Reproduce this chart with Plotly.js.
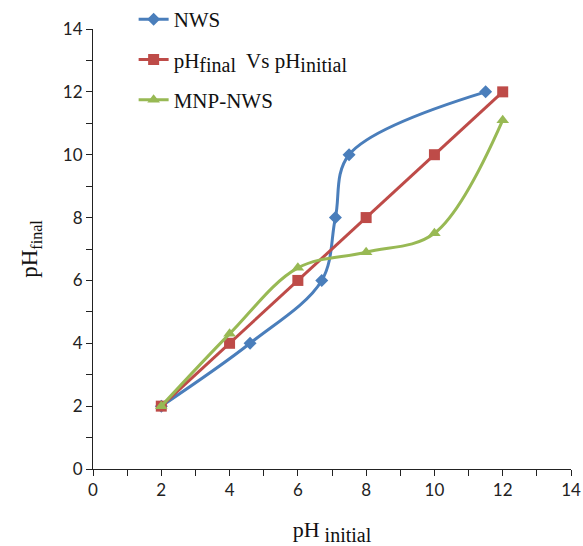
<!DOCTYPE html>
<html>
<head>
<meta charset="utf-8">
<script src="https://cdn.plot.ly/plotly-3.0.1.min.js"></script>
<style>html,body{margin:0;padding:0;background:#fff;}#chart{width:583px;height:546px;}</style>
</head>
<body>
<div id="chart"></div>
<script>
// Data
const nwsX = [2, 4.6, 6.7, 7.1, 7.5, 11.5];
const nwsY = [2, 4, 6, 8, 10, 12];
const refX = [2, 4, 6, 8, 10, 12];
const refY = [2, 4, 6, 8, 10, 12];
const mnpX = [2, 4, 6, 8, 10, 12];
const mnpY = [2, 4.3, 6.4, 6.9, 7.5, 11.1];
const seriesNames = ['NWS',
  'pH<sub><span style="font-size:20px">final</span></sub>  Vs pH<sub><span style="font-size:20px">initial</span></sub>',
  'MNP-NWS'];
const xTitle = 'pH<sub><span style="font-size:20px"> initial</span></sub>';
const yTitle = 'pH<sub>final</sub>';

const traces = [
  {x: nwsX, y: nwsY, name: seriesNames[0], mode: 'lines+markers', legendgroup: 'a',
   line: {color: '#4A7EBB', width: 3, shape: 'spline', smoothing: 1},
   marker: {symbol: 'diamond', size: 10, color: '#4A7EBB'}},
  {x: refX, y: refY, name: seriesNames[1], mode: 'lines+markers', legendgroup: 'b',
   line: {color: '#BE4B48', width: 3},
   marker: {symbol: 'square', size: 11, color: '#BE4B48'}},
  {x: mnpX, y: mnpY, name: seriesNames[2], mode: 'lines+markers', legendgroup: 'c',
   line: {color: '#98B954', width: 3, shape: 'spline', smoothing: 1},
   marker: {symbol: 'triangle-up', size: 11, color: '#98B954'}}
];

const tickFont = {family: 'Lato, "Noto Sans", sans-serif', size: 17, color: '#222'};
const layout = {
  width: 583, height: 546,
  margin: {l: 93, r: 12, t: 29, b: 77, autoexpand: false},
  paper_bgcolor: '#fff', plot_bgcolor: '#fff',
  showlegend: true,
  legend: {x: 0.085, y: 1.068, xanchor: 'left', yanchor: 'top',
    bgcolor: 'rgba(0,0,0,0)', itemwidth: 30, tracegroupgap: 10,
    font: {family: '"Liberation Serif", "Times New Roman", serif', size: 21, color: '#111'}},
  xaxis: {range: [0, 14], dtick: 2, tick0: 0, showgrid: false, zeroline: false,
    showline: true, linecolor: '#222', linewidth: 1,
    ticks: 'outside', ticklen: 6, tickcolor: '#222',
    minor: {ticks: 'outside', dtick: 1, ticklen: 6, tickcolor: '#222'},
    tickfont: tickFont,
    title: {text: xTitle,
      font: {family: '"Liberation Serif", "Times New Roman", serif', size: 22, color: '#111'}}},
  yaxis: {range: [0, 14], dtick: 2, tick0: 0, showgrid: false, zeroline: false,
    showline: true, linecolor: '#222', linewidth: 1,
    ticks: 'outside', ticklen: 6, tickcolor: '#222',
    minor: {ticks: 'outside', dtick: 1, ticklen: 6, tickcolor: '#222'},
    tickfont: tickFont,
    title: {text: yTitle,
      font: {family: '"Liberation Serif", "Times New Roman", serif', size: 23, color: '#111'}}}
};

Plotly.newPlot('chart', traces, layout, {displayModeBar: false, staticPlot: true});
</script>
</body>
</html>
